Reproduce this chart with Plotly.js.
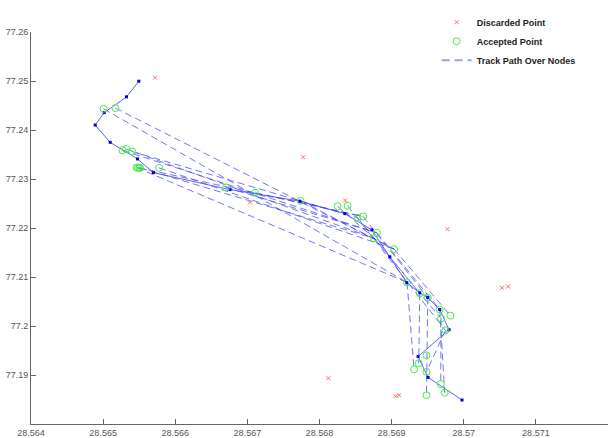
<!DOCTYPE html>
<html>
<head>
<meta charset="utf-8">
<script src="https://cdn.plot.ly/plotly-3.0.1.min.js"></script>
<style>html,body{margin:0;padding:0;background:#fff;}#chart{width:616px;height:438px;}</style>
</head>
<body>
<div id="chart"></div>
<script>
// Discarded points (red x)
var discX = [28.565721, 28.567774, 28.567036, 28.568356, 28.569774, 28.570530, 28.570615, 28.569054, 28.569103, 28.568123];
var discY = [77.250680, 77.234430, 77.225228, 77.225620, 77.219746, 77.207802, 77.208057, 77.185678, 77.185874, 77.189359];

// Accepted points (green circles)
var accX = [28.565005, 28.565171, 28.565268, 28.565319, 28.565403, 28.565465, 28.565481, 28.565500, 28.565513, 28.565776,
            28.566704, 28.567106, 28.567738, 28.568251, 28.568389, 28.568528, 28.568605, 28.568795, 28.568757, 28.569034,
            28.569214, 28.569390, 28.569501, 28.569667, 28.569685, 28.569815, 28.569746, 28.569483, 28.569376, 28.569311,
            28.569483, 28.569681, 28.569736, 28.569483];
var accY = [77.244337, 77.244474, 77.235859, 77.236114, 77.235605, 77.232335, 77.232335, 77.232300, 77.232276, 77.232276,
            77.228282, 77.227186, 77.225541, 77.224445, 77.224562, 77.222095, 77.222350, 77.219021, 77.217905, 77.215693,
            77.208899, 77.206686, 77.205805, 77.203358, 77.201537, 77.202124, 77.199109, 77.194019, 77.192394, 77.191160,
            77.190631, 77.188145, 77.186383, 77.185874];

// Track nodes (solid line with dots)
var trackX = [28.565495, 28.565324, 28.565015, 28.564890, 28.565098, 28.565476, 28.565697, 28.566759, 28.567729, 28.568352,
              28.568726, 28.568975, 28.569210, 28.569390, 28.569501, 28.569667, 28.569796, 28.569367, 28.569505, 28.569976];
var trackY = [77.249956, 77.246765, 77.243554, 77.241008, 77.237484, 77.234097, 77.231297, 77.227832, 77.225482, 77.222937,
              77.219608, 77.214126, 77.208840, 77.206784, 77.205805, 77.203358, 77.199246, 77.193764, 77.189516, 77.184895];

// Dashed track path: pairs of accepted-point indices (from -> to)
var pathFrom = [0, 1, 2, 3, 4, 6, 8, 9, 5, 10, 11, 12, 13, 15, 16, 17, 18, 19, 14, 20, 21, 22, 23, 24, 26];
var pathTo   = [20, 19, 17, 18, 15, 16, 18, 19, 20, 17, 16, 19, 18, 21, 22, 23, 24, 25, 26, 29, 28, 33, 32, 31, 30];

// Tick labels
var xTicks = [28.564, 28.565, 28.566, 28.567, 28.568, 28.569, 28.570, 28.571, 28.572];
var xTickText = ["28.564", "28.565", "28.566", "28.567", "28.568", "28.569", "28.57", "28.571", "28.572"];
var yTicks = [77.19, 77.20, 77.21, 77.22, 77.23, 77.24, 77.25, 77.26];
var yTickText = ["77.19", "77.2", "77.21", "77.22", "77.23", "77.24", "77.25", "77.26"];

var dashX = [], dashY = [];
for (var i = 0; i < pathFrom.length; i++) {
  dashX.push(accX[pathFrom[i]], accX[pathTo[i]], null);
  dashY.push(accY[pathFrom[i]], accY[pathTo[i]], null);
}

var traces = [
  {
    x: dashX, y: dashY, mode: 'lines', name: 'Track Path Over Nodes', showlegend: false,
    line: {color: 'rgba(60,60,240,0.7)', width: 1, dash: '7px,4px'}, hoverinfo: 'skip', connectgaps: false
  },
  {
    x: trackX, y: trackY, mode: 'lines+markers', name: 'track', showlegend: false,
    line: {color: 'rgba(70,70,255,0.85)', width: 1},
    marker: {color: '#0000cc', size: 3, symbol: 'square'}
  },
  {
    x: discX, y: discY, mode: 'markers', name: 'Discarded Point',
    marker: {symbol: 'x-thin-open', color: '#ff6a6a', size: 4, line: {color: '#ff6a6a', width: 1}}
  },
  {
    x: accX, y: accY, mode: 'markers', name: 'Accepted Point',
    marker: {symbol: 'circle-open', color: '#44ee44', size: 7, line: {color: '#44ee44', width: 1}}
  },
  {
    x: [null], y: [null], mode: 'lines', name: 'Track Path Over Nodes',
    line: {color: 'rgba(90,90,230,0.6)', width: 2, dash: '8px,5px'}
  }
];

var axisCommon = {
  showgrid: false, zeroline: false, showline: true, linecolor: '#666', linewidth: 1,
  ticks: 'inside', ticklen: 5, tickcolor: '#666', tickwidth: 1, mirror: false,
  tickfont: {family: 'Liberation Sans, Arial, sans-serif', size: 9, color: '#555'},
  tickmode: 'array'
};

var layout = {
  width: 616, height: 438,
  margin: {l: 30.7, r: 7.5, t: 15.7, b: 13.7},
  paper_bgcolor: '#ffffff', plot_bgcolor: '#ffffff',
  xaxis: Object.assign({}, axisCommon, {range: [28.564, 28.572], tickvals: xTicks, ticktext: xTickText}),
  yaxis: Object.assign({}, axisCommon, {range: [77.18, 77.26], tickvals: yTicks, ticktext: yTickText}),
  showlegend: true,
  legend: {
    x: 0.703, y: 1.062, xanchor: 'left', yanchor: 'top',
    bgcolor: 'rgba(0,0,0,0)', borderwidth: 0,
    font: {family: 'Liberation Sans, Arial, sans-serif', size: 9, color: '#222', weight: 'bold'},
    tracegroupgap: 0
  }
};

Plotly.newPlot('chart', traces, layout, {displayModeBar: false, staticPlot: true});
</script>
</body>
</html>
